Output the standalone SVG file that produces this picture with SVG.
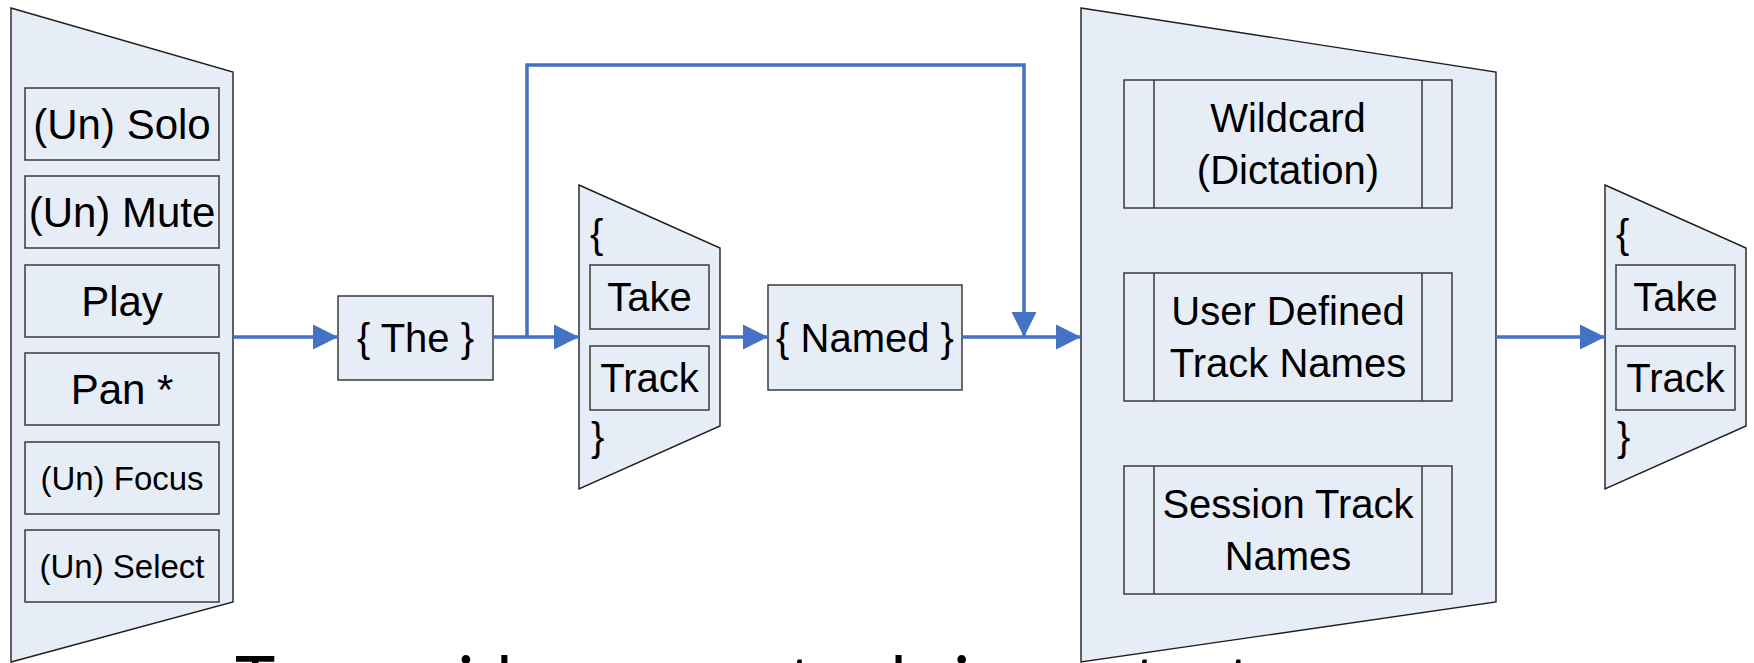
<svg xmlns="http://www.w3.org/2000/svg" width="1754" height="663" viewBox="0 0 1754 663">
  <style>
    .shape { fill: #E7EDF7; stroke: #1E1E1E; stroke-width: 1.4; }
    .box { fill: #E7EDF7; stroke: #3A3A3A; stroke-width: 1.5; }
    .sep { stroke: #3A3A3A; stroke-width: 1.5; fill: none; }
    .lbl { font-family: "Liberation Sans", Arial, sans-serif; font-size: 40px; fill: #000; text-anchor: middle; }
    .big { font-size: 42px; }
    .sm { font-size: 33px; }
    .brace { font-family: "Liberation Sans", Arial, sans-serif; font-size: 40px; fill: #000; }
    .link { fill: none; stroke: #4472C4; stroke-width: 3.5; }
    .caption { font-family: Lato, "Liberation Sans", sans-serif; font-size: 72px; fill: #000; }
  </style>
  <defs>
    <marker id="arrow" viewBox="0 0 10 10" refX="10" refY="5" markerWidth="25" markerHeight="26" markerUnits="userSpaceOnUse" orient="auto">
      <path d="M0,0 L10,5 L0,10 z" fill="#4472C4"/>
    </marker>
  </defs>

  <rect width="1754" height="663" fill="#FFFFFF"/>

  <!-- caption line, mostly below the visible area -->
  <text class="caption" x="235" y="708" textLength="1017" lengthAdjust="spacingAndGlyphs">To provide a more tools in context</text>

  <!-- command list -->
  <g id="commands">
    <polygon class="shape" points="11,8 233,72 233,602 11,662"/>
    <rect class="box" x="25" y="88" width="194" height="72"/>
    <text class="lbl big" x="122" y="139">(Un) Solo</text>
    <rect class="box" x="25" y="176" width="194" height="72"/>
    <text class="lbl big" x="122" y="227">(Un) Mute</text>
    <rect class="box" x="25" y="265" width="194" height="72"/>
    <text class="lbl big" x="122" y="316">Play</text>
    <rect class="box" x="25" y="353" width="194" height="72"/>
    <text class="lbl big" x="122" y="404">Pan *</text>
    <rect class="box" x="25" y="442" width="194" height="72"/>
    <text class="lbl sm" x="122" y="490">(Un) Focus</text>
    <rect class="box" x="25" y="530" width="194" height="72"/>
    <text class="lbl sm" x="122" y="578">(Un) Select</text>
  </g>

  <!-- optional article -->
  <g id="the">
    <rect class="box" x="338" y="296" width="155" height="84"/>
    <text class="lbl" x="415.5" y="352">{ The }</text>
  </g>

  <!-- optional take / track word -->
  <g id="take-track-1">
    <polygon class="shape" points="579,185 720,248 720,426 579,489"/>
    <text class="brace" x="590" y="248">{</text>
    <rect class="box" x="590" y="265" width="119" height="64"/>
    <text class="lbl" x="649.5" y="311">Take</text>
    <rect class="box" x="590" y="346" width="119" height="64"/>
    <text class="lbl" x="649.5" y="392">Track</text>
    <text class="brace" x="591" y="451">}</text>
  </g>

  <!-- optional "named" -->
  <g id="named">
    <rect class="box" x="768" y="285" width="194" height="105"/>
    <text class="lbl" x="865" y="352">{ Named }</text>
  </g>

  <!-- track name sources -->
  <g id="names">
    <polygon class="shape" points="1081,8 1496,72 1496,602 1081,662"/>
    <rect class="box" x="1124" y="80" width="328" height="128"/>
    <path class="sep" d="M1154,80 V208 M1422,80 V208"/>
    <text class="lbl" x="1288" y="132">Wildcard</text>
    <text class="lbl" x="1288" y="184">(Dictation)</text>
    <rect class="box" x="1124" y="273" width="328" height="128"/>
    <path class="sep" d="M1154,273 V401 M1422,273 V401"/>
    <text class="lbl" x="1288" y="325">User Defined</text>
    <text class="lbl" x="1288" y="377">Track Names</text>
    <rect class="box" x="1124" y="466" width="328" height="128"/>
    <path class="sep" d="M1154,466 V594 M1422,466 V594"/>
    <text class="lbl" x="1288" y="518">Session Track</text>
    <text class="lbl" x="1288" y="570">Names</text>
  </g>

  <!-- trailing take / track word -->
  <g id="take-track-2">
    <polygon class="shape" points="1605,185 1746,248 1746,426 1605,489"/>
    <text class="brace" x="1616" y="248">{</text>
    <rect class="box" x="1616" y="265" width="119" height="64"/>
    <text class="lbl" x="1675.5" y="311">Take</text>
    <rect class="box" x="1616" y="346" width="119" height="64"/>
    <text class="lbl" x="1675.5" y="392">Track</text>
    <text class="brace" x="1617" y="451">}</text>
  </g>

  <g id="connectors">
    <line class="link" x1="233" y1="337" x2="338" y2="337" marker-end="url(#arrow)"/>
    <line class="link" x1="493" y1="337" x2="579" y2="337" marker-end="url(#arrow)"/>
    <polyline class="link" points="527,337 527,65 1024,65 1024,337" marker-end="url(#arrow)"/>
    <line class="link" x1="720" y1="337" x2="768" y2="337" marker-end="url(#arrow)"/>
    <line class="link" x1="962" y1="337" x2="1081" y2="337" marker-end="url(#arrow)"/>
    <line class="link" x1="1496" y1="337" x2="1605" y2="337" marker-end="url(#arrow)"/>
  </g>
</svg>
